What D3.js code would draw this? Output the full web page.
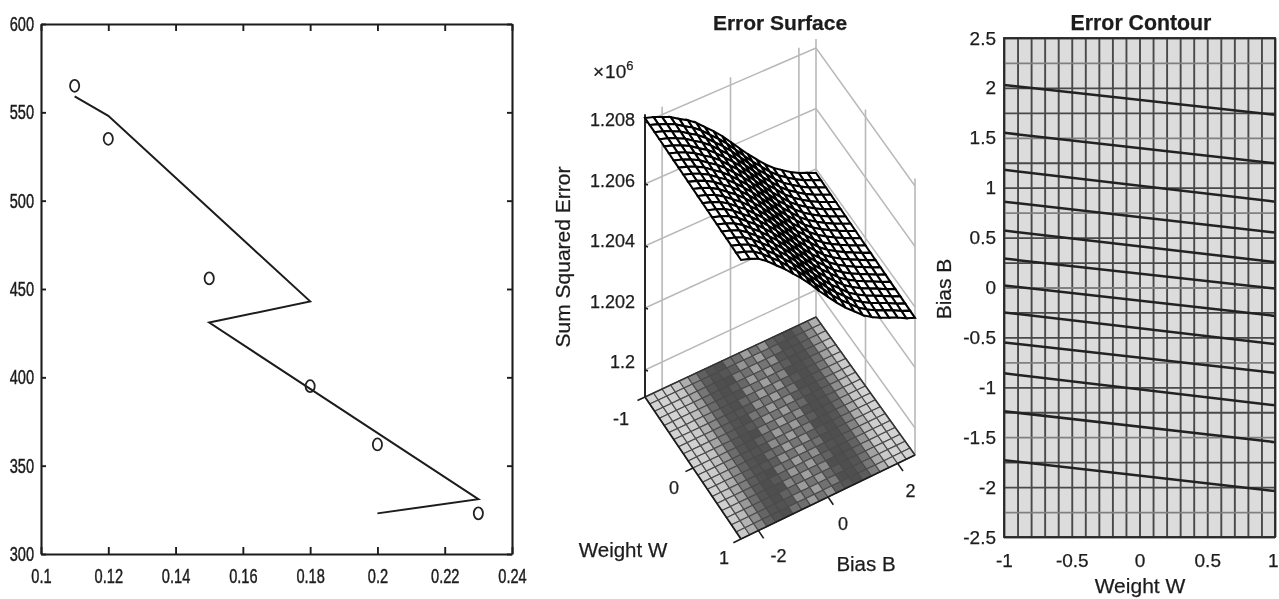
<!DOCTYPE html>
<html><head><meta charset="utf-8">
<script src="https://cdn.jsdelivr.net/npm/d3@7/dist/d3.min.js"></script>
<style>
html,body{margin:0;padding:0;background:#fff;overflow:hidden}
svg{display:block}
text{font-family:"Liberation Sans",Arial,sans-serif;fill:#1c1c1c;stroke:#1c1c1c;stroke-width:.25px}
.narrow text{font-size:20px;stroke-width:.45px}
</style></head><body>
<svg id="c" width="1279" height="599"></svg>
<script>
// ---- left panel data
const fitX = [0.11, 0.12, 0.18, 0.15, 0.23, 0.2];
const fitY = [559, 548, 443, 431, 331, 323];
const targetX = [0.11, 0.12, 0.15, 0.18, 0.2, 0.23];
const targetY = [565, 535, 456, 395, 362, 323];
const leftXTicks = [0.1, 0.12, 0.14, 0.16, 0.18, 0.2, 0.22, 0.24];
const leftYTicks = [300, 350, 400, 450, 500, 550, 600];

// ---- middle panel data (error along Bias B, on the W=-1 and W=1 edges)
const biasGrid = d3.range(21).map(i => -2.5 + i * 0.25);
const weightGrid = d3.range(21).map(i => -1 + i * 0.1);
const surfaceZBack  = [1.20813,1.20804,1.20792,1.20780,1.20762,1.20746,1.20725,1.20699,1.20674,1.20646,1.20614,
                       1.20582,1.20550,1.20521,1.20492,1.20467,1.20447,1.20428,1.20412,1.20400,1.20387];
const surfaceZFront = [1.20813,1.20804,1.20792,1.20771,1.20746,1.20721,1.20692,1.20664,1.20632,1.20597,1.20565,
                       1.20533,1.20504,1.20479,1.20453,1.20434,1.20418,1.20405,1.20392,1.20376,1.20364];
const floorLevel = [.86,.84,.76,.55,.3,.16,.13,.15,.34,.42,.44,.42,.36,.16,.13,.14,.25,.55,.78,.86];
const speckle    = [0,0,0,0,0,0,0,.04,.1,.13,.14,.13,.1,.04,0,0,0,0,0,0];
const zTicks = [1.2, 1.202, 1.204, 1.206, 1.208];
const surfWTicks = [-1, 0, 1];
const surfBTicks = [-2, 0, 2];

// ---- right panel data (contour end values at W=-1 and W=1)
const contourAtMinus1 = [2.03,1.55,1.18,0.86,0.57,0.29,0.02,-0.25,-0.55,-0.86,-1.24,-1.73];
const contourAtPlus1  = [1.73,1.245,0.86,0.55,0.255,-0.01,-0.285,-0.566,-0.855,-1.18,-1.55,-2.04];
const contourX = [-1, 1];
const rightXTicks = [-1, -0.5, 0, 0.5, 1];
const rightYTicks = [-2.5,-2,-1.5,-1,-0.5,0,0.5,1,1.5,2,2.5];

const svg = d3.select("#c");
const defs = svg.append("defs");
defs.append("filter").attr("id","soft").attr("x",0).attr("y",0).attr("width",1).attr("height",1)
  .append("feGaussianBlur").attr("stdDeviation",0.5);
const root = svg.append("g").attr("filter","url(#soft)");
root.append("rect").attr("width",1279).attr("height",599).attr("fill","#fff");
const fmt = d => d3.format("~g")(d).replace("\u2212","-");

// ================= LEFT =================
{
  const x = d3.scaleLinear().domain([0.1,0.24]).range([41,512]);
  const y = d3.scaleLinear().domain([300,600]).range([554,24]);
  const g = root.append("g").attr("class","narrow");
  const style = s => { s.selectAll("path,line").attr("stroke","#1c1c1c").attr("stroke-width",1.9); s.select(".domain").attr("stroke-width",2.1); s.attr("font-family",null).attr("font-size",null); };
  g.append("g").attr("transform","translate(0,554)")
    .call(d3.axisBottom(x).tickValues(leftXTicks).tickFormat(fmt).tickSizeInner(-7).tickSizeOuter(0).tickPadding(15)).call(style);
  g.append("g").attr("transform","translate(41,0)")
    .call(d3.axisLeft(y).tickValues(leftYTicks).tickFormat(fmt).tickSizeInner(-5).tickSizeOuter(0).tickPadding(7)).call(style);
  g.append("g").attr("transform","translate(0,24)")
    .call(d3.axisTop(x).tickValues(leftXTicks).tickFormat("").tickSizeInner(-7).tickSizeOuter(0)).call(style);
  g.append("g").attr("transform","translate(512,0)")
    .call(d3.axisRight(y).tickValues(leftYTicks).tickFormat("").tickSizeInner(-5).tickSizeOuter(0)).call(style);
  g.selectAll("text").each(function(){
    const len=this.getComputedTextLength();
    if(len>0) d3.select(this).attr("textLength",len*0.73).attr("lengthAdjust","spacingAndGlyphs");
  });
  root.append("path").datum(d3.zip(fitX,fitY))
    .attr("d",d3.line().x(d=>x(d[0])).y(d=>y(d[1])))
    .attr("fill","none").attr("stroke","#1c1c1c").attr("stroke-width",2);
  root.selectAll(".pt").data(d3.zip(targetX,targetY)).join("ellipse")
    .attr("cx",d=>x(d[0])).attr("cy",d=>y(d[1])).attr("rx",4.6).attr("ry",6)
    .attr("fill","none").attr("stroke","#222").attr("stroke-width",1.8);
}

// ================= MIDDLE =================
{
  const u = d3.scaleLinear().domain([-1,1]).range([0,1]);
  const v = d3.scaleLinear().domain([-2.5,2.5]).range([0,1]);
  const k = d3.scaleLinear().domain([-2.5,2.5]).range([31000,30250]);
  const L=[645,397], F=[741,539], R=[915,455], B=[816,317];
  const proj = (w,b,z) => {
    const a=u(w), c=v(b);
    const f = i => (1-a)*(1-c)*L[i]+a*(1-c)*F[i]+a*c*R[i]+(1-a)*c*B[i];
    const px=f(0), py=f(1);
    return z==null ? [px,py] : [px, py-27-(z-1.2)*k(b)];
  };
  const seg = (g,a,b,col,wd) => g.append("line").attr("x1",a[0]).attr("y1",a[1]).attr("x2",b[0]).attr("y2",b[1]).attr("stroke",col).attr("stroke-width",wd);
  const poly = (g,pts,fill,st,sw) => g.append("polygon").attr("points",pts.map(p=>p.join(",")).join(" ")).attr("fill",fill).attr("stroke",st).attr("stroke-width",sw);
  const g = root.append("g");
  const zTop = 1.20825;
  // walls
  zTicks.forEach(z=>{
    seg(g,proj(-1,-2.5,z),proj(-1,2.5,z),"#b8b8b8",1.4);
    seg(g,proj(-1,2.5,z),proj(1,2.5,z),"#b8b8b8",1.4);
  });
  [...surfBTicks,2.5].forEach(b=>seg(g,proj(-1,b),proj(-1,b,zTop+(b===2.5?.00005:0)),"#b8b8b8",1.6));
  [0,1].forEach(w=>seg(g,proj(w,2.5),proj(w,2.5,zTop),"#b8b8b8",1.6));
  // floor
  const shade = d3.scaleLinear().domain([0,1]).range(["#383838","#ececec"]);
  const levelAt = d3.scaleLinear().domain(d3.range(20)).range(floorLevel).clamp(true);
  const speckleAt = d3.scaleLinear().domain(d3.range(20)).range(speckle).clamp(true);
  for(let i=0;i<20;i++) for(let j=0;j<20;j++){
    const jj = j + (i/19-0.5)*3;
    const lev = levelAt(jj) + ((i+j)%2 ? speckleAt(jj) : -speckleAt(jj)*.7);
    poly(g,[proj(weightGrid[i],biasGrid[j]),proj(weightGrid[i+1],biasGrid[j]),proj(weightGrid[i+1],biasGrid[j+1]),proj(weightGrid[i],biasGrid[j+1])],shade(lev),"#4c4c4c",1.15);
  }
  // floor edges, ticks and z axis
  seg(g,proj(-1,-2.5),proj(1,-2.5),"#1c1c1c",1.7);
  seg(g,proj(1,-2.5),proj(1,2.5),"#1c1c1c",1.7);
  seg(g,proj(-1,-2.5),proj(-1,2.5),"#333",1.4);
  seg(g,proj(-1,2.5),proj(1,2.5),"#333",1.4);
  seg(g,proj(-1,-2.5),proj(-1,-2.5,zTop),"#1c1c1c",1.9);
  surfBTicks.forEach(b=>seg(g,proj(1,b),proj(1.11,b),"#1c1c1c",1.6));
  surfWTicks.forEach(w=>seg(g,proj(w,-2.5),proj(w,-2.72),"#1c1c1c",1.6));
  zTicks.forEach(z=>{const p=proj(-1,-2.5,z); seg(g,p,[p[0]+3,p[1]+1],"#1c1c1c",1.5);});
  // surface, back to front
  const gs = root.append("g");
  const zAt = (i,j) => { const a=i/20; return (1-a)*surfaceZBack[j]+a*surfaceZFront[j]; };
  for(let i=0;i<20;i++) for(let j=19;j>=0;j--){
    poly(gs,[proj(weightGrid[i],biasGrid[j],zAt(i,j)),proj(weightGrid[i+1],biasGrid[j],zAt(i+1,j)),
             proj(weightGrid[i+1],biasGrid[j+1],zAt(i+1,j+1)),proj(weightGrid[i],biasGrid[j+1],zAt(i,j+1))],"#fff","#000",2.05);
  }
  // labels
  const t = root.append("g");
  const lab=(s,p,dx,dy,size,anchor)=>t.append("text").attr("x",p[0]+dx).attr("y",p[1]+dy).attr("font-size",size).attr("text-anchor",anchor||"middle").text(s);
  const zLabelY = d3.scaleLinear().domain([1.2,1.208]).range([368,126]);
  zTicks.forEach(z=>lab(fmt(z),[635,zLabelY(z)],0,0,18,"end"));
  const wOff={"-1":[-24,28],"0":[-19,26],"1":[-17,25]};
  surfWTicks.forEach(w=>lab(fmt(w),proj(w,-2.5),wOff[w][0],wOff[w][1],18));
  const bOff={"-2":[20,31],"0":[15,33],"2":[13,34]};
  surfBTicks.forEach(b=>lab(fmt(b),proj(1,b),bOff[b][0],bOff[b][1],18));
  const x10=t.append("text").attr("x",593).attr("y",78).attr("font-size",19);
  x10.append("tspan").text("×");
  x10.append("tspan").attr("dx",1).text("10");
  x10.append("tspan").attr("dy",-8).attr("font-size",13).text("6");
  t.append("text").attr("x",780).attr("y",30).attr("font-size",21).attr("font-weight","bold").attr("text-anchor","middle").text("Error Surface");
  t.append("text").attr("transform","translate(570,257) rotate(-90)").attr("font-size",21).attr("text-anchor","middle").text("Sum Squared Error");
  t.append("text").attr("x",623).attr("y",557).attr("font-size",20.5).attr("text-anchor","middle").text("Weight W");
  t.append("text").attr("x",866).attr("y",571).attr("font-size",20.5).attr("text-anchor","middle").text("Bias B");
}

// ================= RIGHT =================
{
  const x = d3.scaleLinear().domain([-1,1]).range([1004,1275]);
  const y = d3.scaleLinear().domain([-2.5,2.5]).range([537,38]);
  const g = root.append("g");
  g.append("rect").attr("x",1004).attr("y",38).attr("width",271).attr("height",499).attr("fill","#dcdcdc");
  const gc = "#484848";
  g.append("g").attr("transform","translate(0,537)")
    .call(d3.axisBottom(x).tickValues(weightGrid).tickFormat("").tickSize(-499))
    .call(s=>{s.selectAll("line").attr("stroke",gc).attr("stroke-width",1.9);s.select(".domain").remove();});
  g.append("g").attr("transform","translate(1004,0)")
    .call(d3.axisLeft(y).tickValues(biasGrid).tickFormat("").tickSize(-271))
    .call(s=>{s.selectAll("line").attr("stroke",d=>Math.abs(d/0.75-Math.round(d/0.75))<1e-6&&Math.abs(d)<2.4?"#808080":gc).attr("stroke-width",1.8);s.select(".domain").remove();});
  g.append("g").selectAll("path").data(d3.zip(contourAtMinus1,contourAtPlus1)).join("path")
    .attr("d",d=>d3.line().x((_, i)=>x(contourX[i])).y(v=>y(v))(d))
    .attr("fill","none").attr("stroke","#222").attr("stroke-width",2.5);
  g.append("rect").attr("x",1004).attr("y",38).attr("width",271).attr("height",499).attr("fill","none").attr("stroke","#2c2c2c").attr("stroke-width",1.9);
  const ax = s=>{s.attr("font-family",null).attr("font-size",19);s.select(".domain").remove();s.selectAll("line").remove();};
  g.append("g").attr("transform","translate(0,537)")
    .call(d3.axisBottom(x).tickValues(rightXTicks).tickFormat(fmt).tickSize(0).tickPadding(17)).call(ax)
    .call(s=>s.selectAll("text").filter(d=>d===1).attr("text-anchor","end").attr("x",3));
  g.append("g").attr("transform","translate(1004,0)")
    .call(d3.axisLeft(y).tickValues(rightYTicks).tickFormat(fmt).tickSize(0).tickPadding(8)).call(ax);
  g.append("text").attr("x",1141).attr("y",30).attr("font-size",21.3).attr("font-weight","bold").attr("text-anchor","middle").text("Error Contour");
  g.append("text").attr("x",1140).attr("y",593).attr("font-size",21).attr("text-anchor","middle").text("Weight W");
  g.append("text").attr("transform","translate(951,289) rotate(-90)").attr("font-size",21).attr("text-anchor","middle").text("Bias B");
}
</script>
</body></html>
